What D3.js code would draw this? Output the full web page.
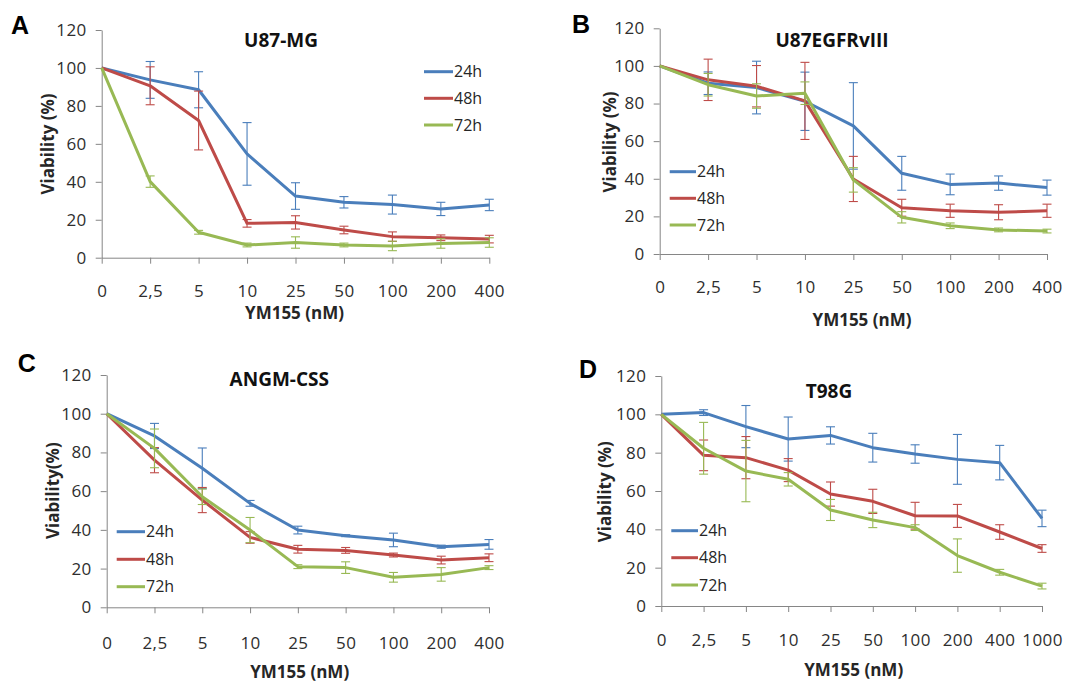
<!DOCTYPE html>
<html>
<head>
<meta charset="utf-8">
<script src="https://cdn.jsdelivr.net/npm/d3@7"></script>
<style>
  html, body { margin: 0; padding: 0; background: #fff; }
  svg { display: block; }
  .tick text { font-family: "Open Sans", sans-serif; font-size: 17px; fill: #2e2e2e; letter-spacing: 0.4px; }
</style>
</head>
<body>
<svg id="chart" width="1086" height="684"></svg>
<script>
// Dose levels (nM) on the categorical x axis
const doses9 = ["0", "2,5", "5", "10", "25", "50", "100", "200", "400"];
const doses10 = ["0", "2,5", "5", "10", "25", "50", "100", "200", "400", "1000"];
const timepoints = ["24h", "48h", "72h"];
const yTicks = [0, 20, 40, 60, 80, 100, 120];

// U87-MG viability (%) and error
const u87mg24 = [100, 93.7, 88.5, 54.7, 32.5, 29.2, 28.0, 25.7, 27.8];
const u87mg24Err = [0, 9.7, 9.5, 16.5, 7, 3, 5, 3.5, 3];
const u87mg48 = [100, 90.6, 72.3, 18.1, 18.6, 14.6, 11.1, 10.5, 9.8];
const u87mg48Err = [0, 10, 15.5, 2, 3.5, 2, 2.5, 1.5, 2];
const u87mg72 = [100, 40.1, 13.4, 6.7, 8.0, 6.7, 6.2, 7.5, 8.0];
const u87mg72Err = [0, 3, 1, 1, 3, 1, 2.5, 2.5, 2.5];

// U87EGFRvIII viability (%) and error
const egfr24 = [100, 90.8, 88.5, 81.2, 68.1, 42.9, 37.0, 37.7, 35.3];
const egfr24Err = [0, 6, 14, 15.5, 23, 9, 5.5, 3.8, 4];
const egfr48 = [100, 92.6, 89.2, 81.4, 39.9, 24.6, 23.0, 22.2, 23.0];
const egfr48Err = [0, 11, 11, 20.5, 12, 4.5, 3.5, 4, 3.5];
const egfr72 = [100, 90.0, 84.0, 85.5, 39.4, 19.5, 15.0, 12.8, 12.2];
const egfr72Err = [0, 6, 6.5, 6, 6.5, 3, 1.5, 1, 1];

// ANGM-CSS viability (%) and error
const angm24 = [100, 88.5, 71.8, 53.7, 39.9, 37.0, 34.8, 31.3, 32.5];
const angm24Err = [0, 6.5, 10.5, 1.5, 2, 0.5, 3.5, 0.8, 2.5];
const angm48 = [100, 76.0, 55.4, 36.1, 30.0, 29.4, 27.0, 24.4, 25.6];
const angm48Err = [0, 6.5, 6.5, 3, 2, 1.5, 1, 2, 2];
const angm72 = [100, 82.1, 57.1, 39.9, 21.0, 20.5, 15.5, 17.0, 20.5];
const angm72Err = [0, 10, 4, 6.5, 1, 3, 2.5, 3.5, 1];

// T98G viability (%) and error
const t98g24 = [100, 100.9, 93.6, 87.1, 89.0, 82.6, 79.3, 76.5, 74.8, 45.7];
const t98g24Err = [0, 1.5, 11, 11.5, 4.5, 7.5, 4.8, 13, 9, 4.3];
const t98g48 = [100, 78.6, 77.4, 70.9, 58.4, 54.6, 47.1, 47.0, 38.6, 30.0];
const t98g48Err = [0, 8, 11, 6, 6.3, 6.3, 7, 6, 3.8, 2];
const t98g72 = [100, 82.3, 70.4, 66.1, 50.1, 44.9, 40.9, 26.3, 17.6, 10.4];
const t98g72Err = [0, 13.5, 16, 3.5, 5.5, 4, 1.5, 8.7, 1.5, 1.5];

const colors = ["#4a7ebb", "#be4b48", "#98b954"];
const axisGray = "#868686";

// Panel layout: plot box, label and legend placement
const panels = [
  { letter: "A", title: "U87-MG", yTitle: "Viability (%)", doses: doses9,
    series: [[u87mg24, u87mg24Err], [u87mg48, u87mg48Err], [u87mg72, u87mg72Err]],
    x0: 101.7, x1: 489.3, yTop: 30, yBot: 257.7,
    titleXY: [281, 40], letterXY: [20, 25], legendX: [424, 453], legendY: [71.7, 98.3, 125],
    tickLabelY: 291, xTitleXY: [294.5, 313], yTitleXY: [48, 144] },
  { letter: "B", title: "U87EGFRvIII", yTitle: "Viability (%)", doses: doses9,
    series: [[egfr24, egfr24Err], [egfr48, egfr48Err], [egfr72, egfr72Err]],
    x0: 659.7, x1: 1047, yTop: 28.3, yBot: 254,
    titleXY: [832, 40], letterXY: [581, 24], legendX: [669.7, 696], legendY: [171.7, 198.3, 225],
    tickLabelY: 286.7, xTitleXY: [862, 320], yTitleXY: [609.7, 142] },
  { letter: "C", title: "ANGM-CSS", yTitle: "Viability(%)", doses: doses9,
    series: [[angm24, angm24Err], [angm48, angm48Err], [angm72, angm72Err]],
    x0: 106.7, x1: 489, yTop: 375, yBot: 607.3,
    titleXY: [279.3, 379.3], letterXY: [26.7, 363], legendX: [116.7, 145], legendY: [531.7, 559.3, 586.7],
    tickLabelY: 643.3, xTitleXY: [299.7, 671.7], yTitleXY: [53.3, 490.7] },
  { letter: "D", title: "T98G", yTitle: "Viability (%)", doses: doses10,
    series: [[t98g24, t98g24Err], [t98g48, t98g48Err], [t98g72, t98g72Err]],
    x0: 661.3, x1: 1042, yTop: 376, yBot: 606,
    titleXY: [829, 391.7], letterXY: [588, 369], legendX: [671.3, 698], legendY: [530.7, 557.7, 585],
    tickLabelY: 640, xTitleXY: [853.7, 670], yTitleXY: [604.7, 491.7] }
];

const svg = d3.select("#chart");

panels.forEach(p => {
  const g = svg.append("g");
  const x = d3.scalePoint().domain(p.doses).range([p.x0, p.x1]).padding(0);
  const y = d3.scaleLinear().domain([0, 120]).range([p.yBot, p.yTop]);

  // y axis
  const yAxis = g.append("g")
    .attr("transform", `translate(${p.x0},0)`)
    .call(d3.axisLeft(y).tickValues(yTicks).tickSize(6).tickPadding(9).tickSizeOuter(0));
  yAxis.select(".domain").attr("stroke", axisGray);
  yAxis.selectAll(".tick line").attr("stroke", axisGray);

  // x axis
  const xAxis = g.append("g")
    .attr("transform", `translate(0,${p.yBot})`)
    .call(d3.axisBottom(x).tickSize(6).tickSizeOuter(0));
  xAxis.select(".domain").attr("stroke", axisGray);
  xAxis.selectAll(".tick line").attr("stroke", axisGray);
  xAxis.selectAll(".tick text")
    .attr("y", p.tickLabelY - p.yBot)
    .attr("dy", "0.35em");

  // series: line then error bars, 24h drawn first
  p.series.forEach(([vals, errs], si) => {
    const pts = p.doses.map((d, i) => ({ d, v: vals[i], e: errs[i] }));
    const col = colors[si];
    g.append("path")
      .datum(pts)
      .attr("fill", "none")
      .attr("stroke", col)
      .attr("stroke-width", 3)
      .attr("stroke-linejoin", "round")
      .attr("d", d3.line().x(q => x(q.d)).y(q => y(q.v)));

    const eb = g.append("g").attr("stroke", col).attr("stroke-width", 1.1);
    pts.filter(q => q.e > 0).forEach(q => {
      const cx = x(q.d);
      const yt = y(q.v + q.e), yb = y(q.v - q.e);
      eb.append("line").attr("x1", cx).attr("x2", cx).attr("y1", yt).attr("y2", yb);
      eb.append("line").attr("x1", cx - 4.5).attr("x2", cx + 4.5).attr("y1", yt).attr("y2", yt);
      eb.append("line").attr("x1", cx - 4.5).attr("x2", cx + 4.5).attr("y1", yb).attr("y2", yb);
    });
  });

  // legend
  timepoints.forEach((t, i) => {
    const ly = p.legendY[i];
    g.append("line")
      .attr("x1", p.legendX[0]).attr("x2", p.legendX[1])
      .attr("y1", ly).attr("y2", ly)
      .attr("stroke", colors[i]).attr("stroke-width", 3);
    g.append("text")
      .attr("x", p.legendX[1] + 1).attr("y", ly).attr("dy", "0.35em")
      .attr("font-family", "Open Sans, sans-serif").attr("font-size", 16)
      .attr("fill", "#262626")
      .text(t);
  });

  // chart title
  g.append("text")
    .attr("x", p.titleXY[0]).attr("y", p.titleXY[1]).attr("dy", "0.35em")
    .attr("text-anchor", "middle")
    .attr("font-family", "Open Sans, sans-serif").attr("font-weight", "bold").attr("font-size", 19)
    .attr("fill", "#111")
    .text(p.title);

  // panel letter
  g.append("text")
    .attr("x", p.letterXY[0]).attr("y", p.letterXY[1]).attr("dy", "0.35em")
    .attr("text-anchor", "middle")
    .attr("font-family", "Liberation Sans, Arial, sans-serif").attr("font-weight", "bold").attr("font-size", 25)
    .attr("fill", "#000")
    .text(p.letter);

  // x axis title
  g.append("text")
    .attr("x", p.xTitleXY[0]).attr("y", p.xTitleXY[1]).attr("dy", "0.35em")
    .attr("text-anchor", "middle")
    .attr("font-family", "Open Sans, sans-serif").attr("font-weight", "bold").attr("font-size", 17)
    .attr("fill", "#262626")
    .text("YM155 (nM)");

  // y axis title
  g.append("text")
    .attr("transform", `translate(${p.yTitleXY[0]},${p.yTitleXY[1]}) rotate(-90)`)
    .attr("dy", "0.35em")
    .attr("text-anchor", "middle")
    .attr("font-family", "Open Sans, sans-serif").attr("font-weight", "bold").attr("font-size", 17)
    .attr("fill", "#262626")
    .text(p.yTitle);
});
</script>
</body>
</html>
